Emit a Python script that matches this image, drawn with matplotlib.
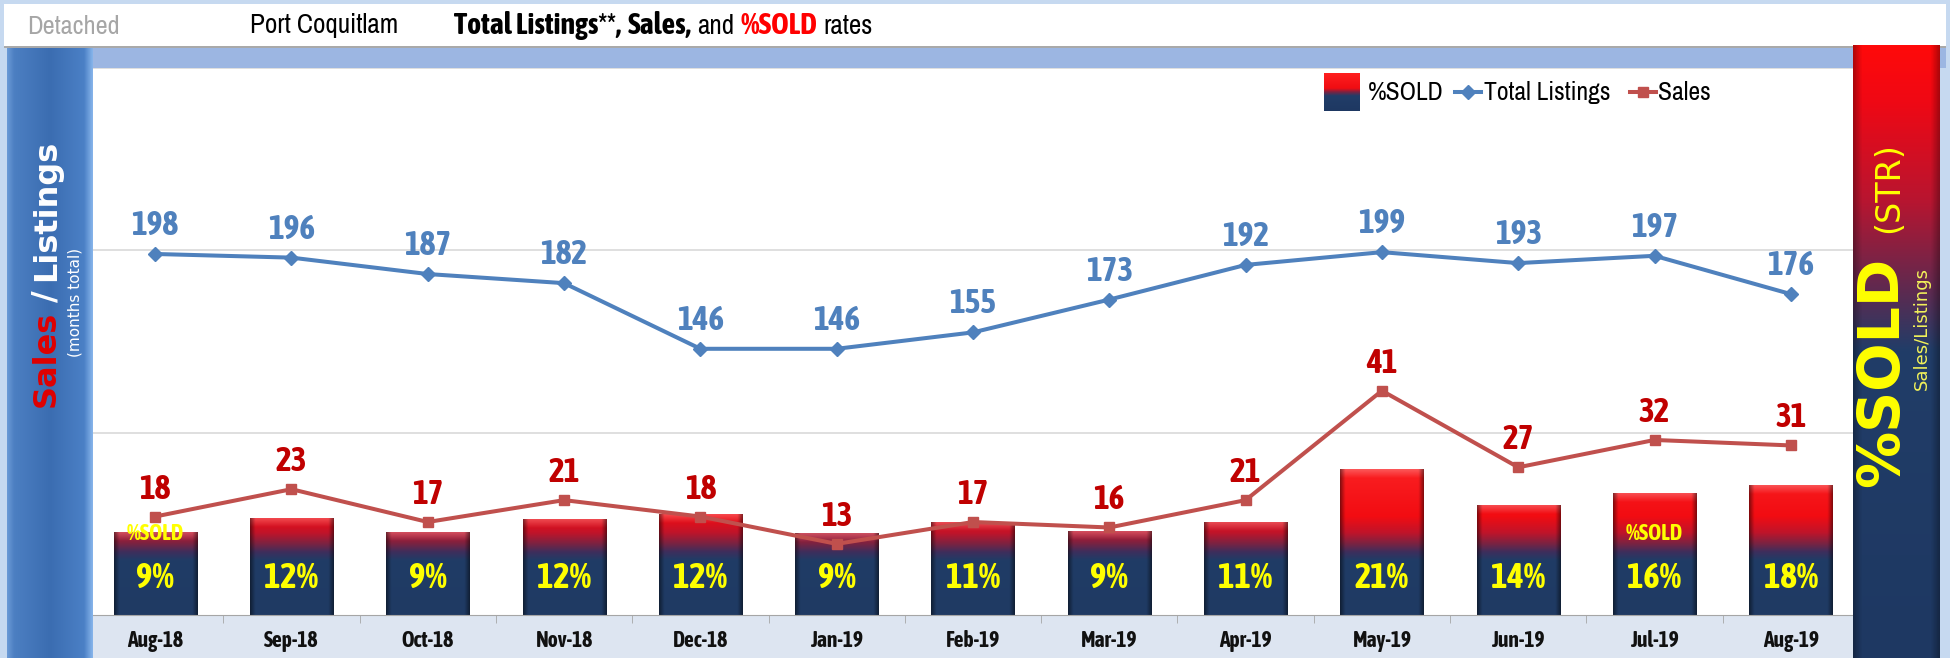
import numpy as np
import matplotlib
matplotlib.use('Agg')
import matplotlib.pyplot as plt
from matplotlib.patches import Rectangle
from matplotlib.lines import Line2D
from matplotlib.colors import to_rgb
import matplotlib.transforms as mtrans
from matplotlib import font_manager as fm

# ---------------- data ----------------
months = ['Aug-18', 'Sep-18', 'Oct-18', 'Nov-18', 'Dec-18', 'Jan-19', 'Feb-19',
          'Mar-19', 'Apr-19', 'May-19', 'Jun-19', 'Jul-19', 'Aug-19']
total_listings = [198, 196, 187, 182, 146, 146, 155, 173, 192, 199, 193, 197, 176]
sales = [18, 23, 17, 21, 18, 13, 17, 16, 21, 41, 27, 32, 31]
pct_sold = [9.1, 11.7, 9.1, 11.5, 12.3, 8.9, 11.0, 9.2, 10.9, 20.6, 14.0, 16.2, 17.6]
pct_labels = ['9%', '12%', '9%', '12%', '12%', '9%', '11%', '9%', '11%',
              '21%', '14%', '16%', '18%']
tagged_bars = [0, 11]          # bars carrying the small "%SOLD" tag

# ---------------- style ----------------
W, H, DPI = 1950, 658, 100
NARROW = ['Archivo Narrow', 'Liberation Sans', 'DejaVu Sans']
WIDE = ['DejaVu Sans']
BLUE = '#4f81bd'
RED_LINE = '#c0504d'
RED_LABEL = '#c00000'
YELLOW = '#ffff00'
BAR_FLOOR = -6


def find_bold_narrow():
    cands = []
    for f in fm.fontManager.ttflist:
        narrow = (f.stretch in ('condensed', 'semi-condensed')
                  or 'Narrow' in f.name or 'Condensed' in f.name)
        if not narrow or f.style != 'normal':
            continue
        w = f.weight if isinstance(f.weight, (int, float)) else 400
        if 600 <= w <= 800:
            pref = 0 if 'Archivo' in f.name else (1 if 'Asap' in f.name else 2)
            cands.append((pref, abs(w - 700), f.fname))
    if cands:
        cands.sort()
        return cands[0][2]
    return None


_bf = find_bold_narrow()


def BOLDN(size):
    if _bf:
        return dict(fontproperties=fm.FontProperties(fname=_bf, size=size))
    return dict(fontsize=size, fontweight='bold', family=['Liberation Sans'])


fig = plt.figure(figsize=(W / DPI, H / DPI), dpi=DPI)
fig.patch.set_facecolor('#c6d9f0')


def fx(px):
    return px / W


def fy(py):
    return 1 - py / H


def box(x0, y0, x1, y1):
    return [x0 / W, 1 - y1 / H, (x1 - x0) / W, (y1 - y0) / H]


def frect(x0, y0, x1, y1, color, z=-1):
    r = Rectangle((fx(x0), fy(y1)), (x1 - x0) / W, (y1 - y0) / H,
                  transform=fig.transFigure, facecolor=color, edgecolor='none', zorder=z)
    fig.add_artist(r)
    return r


def grad(values, stops, colors):
    cols = np.array([to_rgb(c) for c in colors])
    return np.stack([np.interp(values, stops, cols[:, k]) for k in range(3)], axis=-1)


# background pieces
frect(4, 4, 1946, 46, 'white')
frect(4, 46, 1946, 47.5, '#a9a9a9')
frect(7, 47.5, 1946, 68, '#9cb6e2')
frect(93, 615, 1853, 658, '#dde5f1')

# ---------------- main axes ----------------
ax = fig.add_axes(box(87, 68, 1859, 615))
ax.set_facecolor('white')
x = np.arange(len(months))

bars = ax.bar(x, np.array(pct_sold) - BAR_FLOOR, bottom=BAR_FLOOR, width=0.61,
              color='none', edgecolor='none', zorder=2)
stops = [BAR_FLOOR, 4.0, 5.5, 7.0, 9.0, 12.0, 25.0]
stop_cols = ['#1f3a63', '#203c66', '#3e2e5c', '#7a2342', '#c0142a', '#f20c12', '#ff2a2a']
for b in bars:
    x0, w, y0, h = b.get_x(), b.get_width(), b.get_y(), b.get_height()
    ys = np.linspace(y0, y0 + h, 300)
    rows = grad(ys, stops, stop_cols)
    top_mask = np.clip((ys - (y0 + h - 1.6)) / 1.6, 0, 1)[:, None]
    rows = rows * (1 - 0.25 * top_mask) + 0.25 * top_mask
    u = np.linspace(0, 1, 80)
    shade = 1 - 0.45 * np.clip((np.abs(u - 0.5) * 2 - 0.88) / 0.12, 0, 1)
    img = np.clip(rows[:, None, :] * shade[None, :, None], 0, 1)
    ax.imshow(img, extent=(x0, x0 + w, y0, y0 + h), origin='lower', aspect='auto',
              interpolation='bilinear', zorder=2)
ax.set_xlim(-0.5, len(months) - 0.5)
ax.set_ylim(BAR_FLOOR, BAR_FLOOR + 100)

blend = mtrans.blended_transform_factory(ax.transData, ax.transAxes)
for i, lab in enumerate(pct_labels):
    ax.text(x[i], 0.068, lab, transform=blend, ha='center', va='center',
            color=YELLOW, zorder=3, **BOLDN(25))
for i in tagged_bars:
    ax.text(x[i], 0.148, '%SOLD', transform=blend, ha='center', va='center',
            color=YELLOW, zorder=3, **BOLDN(16))

ax.set_yticks([])
for s in ['left', 'right', 'top']:
    ax.spines[s].set_visible(False)
ax.spines['bottom'].set_color('#a6a6a6')
ax.set_xticks(x)
ax.set_xticklabels(months, color='#111111', **BOLDN(15.5))
ax.tick_params(axis='x', which='major', length=0, pad=11)
ax.set_xticks(np.arange(-0.5, len(months), 1), minor=True)
ax.tick_params(axis='x', which='minor', length=6, color='#a6a6a6', direction='out')

# listings axis
axl = ax.twinx()
axl.set_ylim(0, 300)
axl.set_yticks([100, 200, 300])
axl.yaxis.grid(True, color='#d9d9d9', lw=1.2)
axl.tick_params(axis='y', length=0, labelright=False)
for s in axl.spines.values():
    s.set_visible(False)
axl.patch.set_visible(False)
axl.plot(x, total_listings, color=BLUE, lw=2.9, marker='D', ms=7, zorder=4)
for i, v in enumerate(total_listings):
    axl.annotate(str(v), (x[i], v), xytext=(0, 19), textcoords='offset pixels',
                 ha='center', va='baseline', color=BLUE, **BOLDN(24))

# sales axis
axs = ax.twinx()
axs.set_ylim(0, 100)
axs.set_yticks([])
for s in axs.spines.values():
    s.set_visible(False)
axs.patch.set_visible(False)
axs.plot(x, sales, color=RED_LINE, lw=2.9, marker='s', ms=7, zorder=4)
for i, v in enumerate(sales):
    axs.annotate(str(v), (x[i], v), xytext=(0, 18), textcoords='offset pixels',
                 ha='center', va='baseline', color=RED_LABEL, **BOLDN(24))

# ---------------- side panels ----------------
lp = fig.add_axes(box(7, 47.5, 93, 658), zorder=5)
u = np.linspace(0, 1, 120)
prof = grad(u, [0, 0.08, 0.5, 0.9, 1.0],
            ['#6b9ad6', '#4c7fc2', '#3b6db1', '#4b80c6', '#86b4ea'])
lp.imshow(np.repeat(prof[None, :, :], 50, axis=0), aspect='auto', extent=(0, 1, 0, 1))
lp.set_axis_off()

rp = fig.add_axes(box(1853, 45, 1940, 658), zorder=5)
yy = np.linspace(45, 658, 400)
col = grad(yy, [45, 100, 200, 290, 350, 658],
           ['#ff0a0a', '#f00814', '#b81530', '#5e2a50', '#213d68', '#1e3862'])
ux = np.linspace(0, 1, 60)
sh = 1 - 0.3 * np.clip((np.abs(ux - 0.5) * 2 - 0.8) / 0.2, 0, 1)
rp.imshow(col[:, None, :] * sh[None, :, None], aspect='auto', extent=(0, 1, 0, 1))
rp.set_axis_off()

renderer = fig.canvas.get_renderer()


def vtext(xb, ybottom, s, **kw):
    t = fig.text(fx(xb), fy(ybottom), s, rotation=90, rotation_mode='anchor',
                 ha='left', va='baseline', zorder=10, **kw)
    bb = t.get_window_extent(renderer)
    return ybottom - bb.height


yn = vtext(55, 407, 'Sales', color='#e00000', fontsize=23, fontweight='bold', family=WIDE)
yn = vtext(55, yn - 9, '/', color='white', fontsize=23, fontweight='bold', family=WIDE)
vtext(55, yn - 9, 'Listings', color='white', fontsize=23, fontweight='bold', family=WIDE)
fig.text(fx(75), fy(302), '(months total)', rotation=90, ha='center', va='center',
         color='white', fontsize=11, family=WIDE, zorder=10)

yn = vtext(1898, 487, '%SOLD', color=YELLOW, fontsize=41, fontweight='bold', family=WIDE)
vtext(1898, yn - 24, '(STR)', color=YELLOW, fontsize=24, family=WIDE)
fig.text(fx(1922), fy(328), 'Sales/Listings', rotation=90, ha='center', va='center',
         color='#f2f25a', fontsize=13, family=WIDE, zorder=10)

# ---------------- header ----------------
fig.text(fx(27), fy(26), 'Detached', color='#a6a6a6', fontsize=19, family=NARROW, va='center')
fig.text(fx(250), fy(26), 'Port Coquitlam', color='black', fontsize=19.5, family=NARROW,
         va='center')
pieces = [('Total Listings**,', 'black', True), ('Sales,', 'black', True),
          ('and', 'black', False), ('%SOLD', '#ff0000', True), ('rates', 'black', False)]
xc = 454
for s, c, is_bold in pieces:
    kw = BOLDN(21.5) if is_bold else dict(fontsize=19.5, family=NARROW)
    t = fig.text(fx(xc), fy(26), s, color=c, va='center', ha='left', **kw)
    xc += t.get_window_extent(renderer).width + 6

# ---------------- legend ----------------
lg = fig.add_axes(box(1324, 73, 1360, 111), zorder=6)
ly = np.linspace(0, 1, 100)
lcol = grad(ly, [0, 0.4, 0.5, 0.6, 1.0], ['#1e3862', '#213d68', '#7a2342', '#f00c12', '#ff2020'])
lg.imshow(np.repeat(lcol[:, None, :], 10, axis=1), origin='lower', aspect='auto',
          extent=(0, 1, 0, 1))
lg.set_axis_off()
LY = 92
fig.text(fx(1368), fy(LY), '%SOLD', fontsize=18.5, family=NARROW, va='center', zorder=10)
fig.add_artist(Line2D([fx(1455), fx(1468), fx(1481)], [fy(LY)] * 3, transform=fig.transFigure,
                      color=BLUE, lw=2.9, marker='D', ms=7, markevery=[1], zorder=10))
fig.text(fx(1484), fy(LY), 'Total Listings', fontsize=18.5, family=NARROW, va='center', zorder=10)
fig.add_artist(Line2D([fx(1630), fx(1643), fx(1656)], [fy(LY)] * 3, transform=fig.transFigure,
                      color=RED_LINE, lw=2.9, marker='s', ms=7, markevery=[1], zorder=10))
fig.text(fx(1658), fy(LY), 'Sales', fontsize=18.5, family=NARROW, va='center', zorder=10)

fig.savefig('out.png', dpi=DPI, facecolor=fig.get_facecolor())
